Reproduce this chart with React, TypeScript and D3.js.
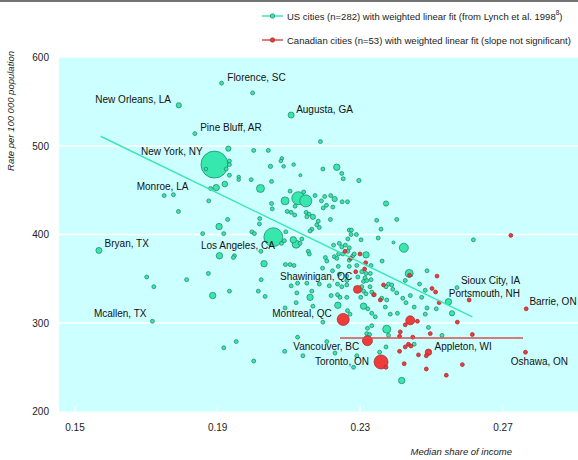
import React from "react";
import * as d3 from "d3";

// ---- data ----
const usX = [0.1911,0.1998,0.1791,0.1836,0.1930,0.2001,0.2042,0.1891,0.1867,0.1933,0.1933,0.1924,0.1933,0.1959,0.1959,0.1994,0.2020,0.1896,0.1880,0.1920,0.1776,0.1750,0.1875,0.1790,0.1928,0.2106,0.2188,0.2080,0.2077,0.2048,0.2113,0.2085,0.2195,0.2234,0.2248,0.2252,0.2132,0.2051,0.2296,0.2103,0.2141,0.2126,0.2147,0.2089,0.2051,0.2053,0.2173,0.2191,0.2200,0.2217,0.2228,0.2249,0.2264,0.2205,0.2223,0.2196,0.2117,0.2095,0.2106,0.2116,0.2148,0.2156,0.2150,0.2167,0.2216,0.2018,0.2017,0.1904,0.2178,0.2185,0.2164,0.2159,0.2182,0.1996,0.2003,0.1858,0.1917,0.2056,0.2091,0.2087,0.2079,0.2112,0.2136,0.2131,0.2120,0.2021,0.2154,0.2157,0.1947,0.1944,0.1905,0.2265,0.2274,0.2289,0.2241,0.2248,0.2258,0.2269,0.2265,0.2279,0.2202,0.2206,0.2227,0.2234,0.2030,0.2090,0.2103,0.2114,0.2194,0.2222,0.2238,0.1874,0.1813,0.2022,0.2106,0.2124,0.2150,0.2185,0.2213,0.2236,0.1933,0.2014,0.2164,0.1886,0.2122,0.2033,0.2159,0.2218,0.2236,0.2262,0.2372,0.2346,0.2402,0.2358,0.2269,0.2275,0.2302,0.2350,0.2393,0.2422,0.2617,0.2225,0.2239,0.2251,0.2283,0.2316,0.2269,0.2361,0.2269,0.2290,0.2330,0.2437,0.2487,0.2304,0.2316,0.2328,0.2293,0.2313,0.2309,0.2318,0.2330,0.2241,0.2262,0.2262,0.2426,0.2466,0.2379,0.2388,0.2372,0.2391,0.2482,0.2248,0.2262,0.2304,0.2309,0.2316,0.2332,0.2337,0.2327,0.2243,0.2402,0.2440,0.2419,0.2428,0.2472,0.2360,0.2374,0.2301,0.2547,0.2309,0.2321,0.2237,0.2370,0.2451,0.2487,0.2513,0.2571,0.2482,0.2557,0.2491,0.2529,0.2120,0.2089,0.2167,0.2264,0.2271,0.2195,0.2332,0.2342,0.2384,0.2404,0.2320,0.2332,0.2318,0.2326,0.2374,0.2379,0.2124,0.2206,0.2088,0.2139,0.2229,0.2290,0.2354,0.2372,0.2451,0.2281,0.2416,0.1567,0.1701,0.1721,0.1717,0.1952,0.1917,0.2001,0.1977];
const usY = [571,560,546,514,497,495,495,479,474,483,479,474,467,465,462,462,452,453,452,457,445,444,438,426,417,535,505,486,483,477,479,477,474,476,469,463,467,460,461,449,448,441,438,438,435,429,444,438,443,444,440,437,437,433,431,430,432,426,425,422,425,423,420,420,417,418,412,409,411,408,406,404,415,403,401,401,401,397,403,393,390,394,395,390,389,381,381,378,376,374,376,395,400,400,390,386,388,385,381,376,374,370,375,373,367,366,366,365,362,359,364,356,349,349,342,345,345,344,342,344,336,336,336,331,334,330,329,331,332,329,435,416,417,406,405,405,394,396,391,385,394,388,378,378,378,377,371,370,364,365,365,356,359,358,356,356,352,351,347,348,349,355,353,348,348,344,344,343,341,338,337,341,343,341,336,333,335,332,341,329,334,331,328,323,329,328,326,329,324,319,316,320,318,318,317,316,340,310,311,295,286,323,317,319,314,310,301,311,307,310,311,294,297,288,287,293,286,284,279,268,263,266,263,267,273,276,250,235,382,352,341,302,279,272,257,384];
const usPop = [170,170,300,170,300,170,170,8000,140,170,170,170,170,140,140,170,700,450,170,350,170,170,170,170,170,400,170,140,140,200,140,140,170,450,170,170,100,170,200,170,170,1850,1600,700,170,170,170,170,170,170,300,170,170,170,170,170,170,170,170,170,170,170,170,300,170,170,170,450,170,170,170,170,170,170,170,170,170,3900,170,170,170,450,170,170,700,170,170,170,170,170,450,170,170,170,170,170,170,170,170,170,170,170,170,170,450,170,170,170,170,170,170,170,170,170,170,170,170,170,170,170,170,170,170,450,170,170,450,170,170,170,300,170,170,170,170,170,170,170,100,890,170,170,170,170,170,450,170,170,170,170,170,700,170,170,170,170,170,170,170,170,170,170,170,170,170,170,170,170,170,170,170,170,170,170,170,170,170,170,170,170,170,170,170,170,170,170,170,170,450,450,170,450,170,170,170,170,170,170,300,170,170,170,170,170,170,170,170,170,170,170,170,170,170,170,170,700,170,170,170,170,170,170,170,170,170,170,170,450,400,170,170,170,170,170,170];

const caX = [0.2257,0.2273,0.2299,0.2315,0.2287,0.2312,0.2292,0.2339,0.2356,0.2365,0.2438,0.2515,0.2501,0.2511,0.2521,0.2605,0.2722,0.2765,0.2572,0.2496,0.2614,0.2491,0.2485,0.2763,0.2586,0.2485,0.2541,0.2252,0.2440,0.2426,0.2460,0.2320,0.2410,0.2412,0.2447,0.2435,0.2442,0.2426,0.2410,0.2463,0.2358,0.2372,0.2423];
const caY = [381,373,378,368,358,361,338,332,326,343,354,353,339,335,323,326,399,316,301,288,287,267,263,267,253,248,241,304,303,298,302,280,285,290,284,276,274,273,268,264,256,250,254];
const caPop = [170,170,170,170,170,170,700,170,170,170,170,170,170,170,170,170,170,170,170,170,170,450,170,170,170,170,170,1600,890,170,170,1100,170,170,170,170,170,170,170,170,2150,170,170];

const usFitX = [0.1572, 0.2614];
const usFitY = [511, 307];
const caFitX = [0.2243, 0.2756];
const caFitY = [283, 283];

const labelNames = ["Florence, SC","New Orleans, LA","Pine Bluff, AR","Augusta, GA","New York, NY","Monroe, LA","Bryan, TX","Los Angeles, CA","Mcallen, TX","Shawinigan, QC","Montreal, QC","Vancouver, BC","Toronto, ON","Sioux City, IA","Portsmouth, NH","Barrie, ON","Appleton, WI","Oshawa, ON"];
const labelX = [0.1927,0.1557,0.1851,0.2120,0.1685,0.1673,0.1583,0.1853,0.1553,0.2075,0.2053,0.2112,0.2173,0.2582,0.2548,0.2774,0.2508,0.2722];
const labelY = [577,552,521,541,494,454,390,388,311,353,311,273,257,348,333,324,273,257];

const xTicks = [0.15, 0.19, 0.23, 0.27];
const yTicks = [200, 300, 400, 500, 600];
const gridValues = [300, 400, 500];

const legendUS = "US cities (n=282) with weighted linear fit (from Lynch et al. 1998";
const legendUSsup = "8";
const legendUSend = ")";
const legendCA = "Canadian cities (n=53) with weighted linear fit (slope not significant)";

// ---- layout ----
const W = 578, H = 460;
const PL = 59, PR = 578;
const FONT = "'Liberation Sans', Arial, Helvetica, sans-serif";
const GREEN = "#36e8ae", GREEN_S = "#1e7f62", GREEN_L = "#3de6b6";
const RED = "#ee3b3b", RED_S = "#9c2a2a", RED_L = "#d65050";

export default function App() {
  const x = d3.scaleLinear().domain([0.15, 0.27]).range([75, 503]);
  const y = d3.scaleLinear().domain([200, 600]).range([411.5, 57.5]);
  const r = d3.scaleSqrt().domain([0, 8000]).range([0, 13.5]);
  const line = d3.line<[number, number]>().x(d => x(d[0])).y(d => y(d[1]));

  const us = usX.map((v, i) => ({ x: v, y: usY[i], p: usPop[i] })).sort((a, b) => b.p - a.p);
  const ca = caX.map((v, i) => ({ x: v, y: caY[i], p: caPop[i] })).sort((a, b) => b.p - a.p);
  const usFit = usFitX.map((v, i) => [v, usFitY[i]] as [number, number]);
  const caFit = caFitX.map((v, i) => [v, caFitY[i]] as [number, number]);

  const top = y(600), bottom = y(200);

  return (
    <svg width={W} height={H} style={{ position: "absolute", left: 0, top: 0, background: "#fff" }} fontFamily={FONT}>
      <line x1={0} x2={W} y1={1} y2={1} stroke="#444" strokeWidth={1.5} />
      {/* legend */}
      <g fontSize={9.5} fill="#222">
        <line x1={262} x2={283} y1={16} y2={16} stroke={GREEN_L} strokeWidth={1.5} />
        <circle cx={272.5} cy={16} r={2.2} fill={GREEN} stroke={GREEN_S} strokeWidth={0.7} />
        <text x={287} y={16} dominantBaseline="central">
          {legendUS}
          <tspan fontSize={6.5} dy={-4}>{legendUSsup}</tspan>
          <tspan dy={4}>{legendUSend}</tspan>
        </text>
        <line x1={262} x2={283} y1={40} y2={40} stroke={RED_L} strokeWidth={1.5} />
        <circle cx={272.5} cy={40} r={2.2} fill={RED} stroke={RED_S} strokeWidth={0.7} />
        <text x={287} y={40} dominantBaseline="central">{legendCA}</text>
      </g>
      {/* plot background */}
      <rect x={PL} y={top} width={PR - PL} height={bottom - top} fill="#ccffff" />
      {gridValues.map(v => (
        <line key={v} x1={PL} x2={PR} y1={y(v)} y2={y(v)} stroke="#fff" strokeWidth={1.5} />
      ))}
      {xTicks.map(v => (
        <line key={v} x1={x(v)} x2={x(v)} y1={bottom - 6} y2={bottom} stroke="#fff" strokeWidth={1.5} />
      ))}
      {/* points */}
      <g>
        {us.map((d, i) => (
          <circle key={"u" + i} cx={x(d.x)} cy={y(d.y)} r={r(d.p)} fill={GREEN} stroke={GREEN_S} strokeWidth={0.7} />
        ))}
      </g>
      <g>
        {ca.map((d, i) => (
          <circle key={"c" + i} cx={x(d.x)} cy={y(d.y)} r={r(d.p)} fill={RED} stroke={RED_S} strokeWidth={0.7} />
        ))}
      </g>
      <path d={line(usFit) || ""} stroke={GREEN_L} strokeWidth={1.5} fill="none" />
      <path d={line(caFit) || ""} stroke={RED_L} strokeWidth={1.5} fill="none" />
      {/* labels */}
      <g fontSize={10} fill="#111">
        {labelNames.map((n, i) => (
          <text key={n} x={x(labelX[i])} y={y(labelY[i])} dominantBaseline="central">{n}</text>
        ))}
      </g>
      {/* axes */}
      <g fontSize={10} fill="#222">
        {yTicks.map(v => (
          <text key={v} x={49} y={y(v)} textAnchor="end" dominantBaseline="central">{v}</text>
        ))}
        {xTicks.map(v => (
          <text key={v} x={x(v)} y={427} textAnchor="middle" dominantBaseline="central">{v.toFixed(2)}</text>
        ))}
      </g>
      <text x={512} y={451} textAnchor="end" dominantBaseline="central" fontSize={9.5} fontStyle="italic" fill="#222">Median share of income</text>
      <text transform={`translate(10,${111}) rotate(-90)`} textAnchor="middle" dominantBaseline="central" fontSize={9.5} fontStyle="italic" fill="#222">Rate per 100 000 population</text>
    </svg>
  );
}
